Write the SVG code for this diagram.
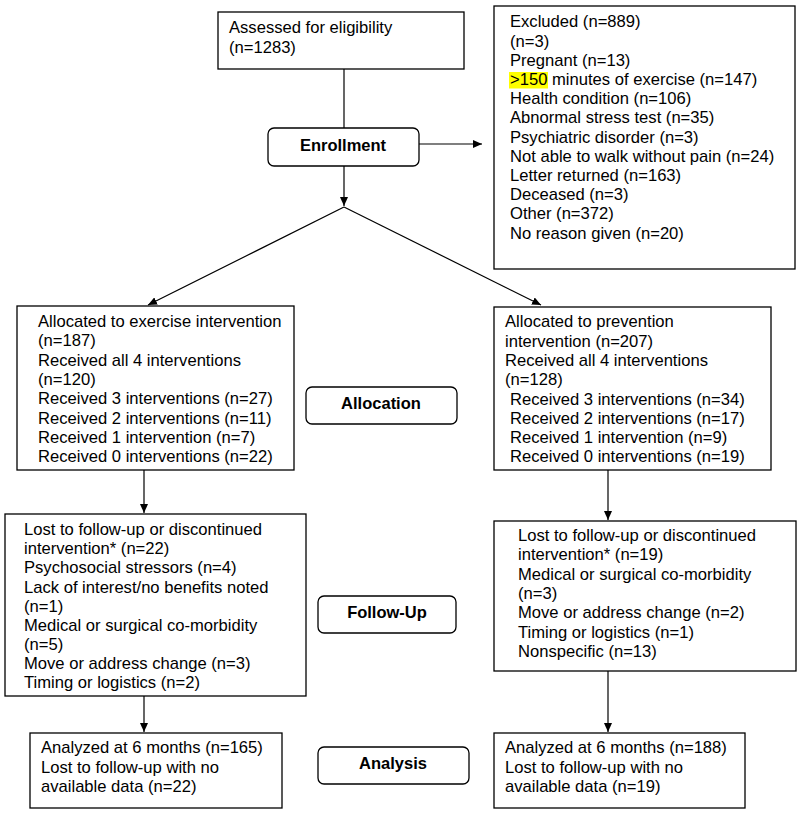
<svg xmlns="http://www.w3.org/2000/svg" width="800" height="815" viewBox="0 0 800 815">
<style>
.box{fill:#fff;stroke:#000;stroke-width:1.3}
.stage{fill:#fff;stroke:#000;stroke-width:1.3}
.t{font-family:"Liberation Sans",Arial,sans-serif;font-size:16.6px;fill:#000}
.b{font-family:"Liberation Sans",Arial,sans-serif;font-size:16.5px;font-weight:bold;fill:#000;text-anchor:middle}
.c{stroke:#000;stroke-width:1.2;fill:none}
</style>
<defs>
<marker id="ah" markerUnits="userSpaceOnUse" markerWidth="9" markerHeight="8" refX="9" refY="4" orient="auto">
<path d="M0,0 L9,4 L0,8 z" fill="#000"/>
</marker>
<clipPath id="clipLF"><rect x="5" y="514" width="301" height="182"/></clipPath>
</defs>
<rect width="800" height="815" fill="#fff"/>

<g id="connectors">
<line class="c" x1="344" y1="69" x2="344" y2="128"/>
<line class="c" x1="419" y1="144" x2="482" y2="144" marker-end="url(#ah)"/>
<line class="c" x1="344" y1="166" x2="344" y2="206" marker-end="url(#ah)"/>
<line class="c" x1="344" y1="207" x2="148" y2="305" marker-end="url(#ah)"/>
<line class="c" x1="344" y1="207" x2="541" y2="305" marker-end="url(#ah)"/>
<line class="c" x1="144" y1="470" x2="144" y2="513" marker-end="url(#ah)"/>
<line class="c" x1="608" y1="470" x2="608" y2="520" marker-end="url(#ah)"/>
<line class="c" x1="144" y1="696" x2="144" y2="732" marker-end="url(#ah)"/>
<line class="c" x1="608" y1="671" x2="608" y2="732" marker-end="url(#ah)"/>
</g>

<g id="assessed">
<rect class="box" x="218" y="12" width="246" height="57"/>
<text class="t" x="229" y="33">Assessed for eligibility</text>
<text class="t" x="229" y="53">(n=1283)</text>
</g>

<g id="enrollment">
<rect class="stage" x="268" y="128" width="151" height="38" rx="6"/>
<text class="b" x="343" y="151">Enrollment</text>
</g>

<g id="excluded">
<rect class="box" x="494" y="6" width="301" height="263"/>
<rect x="509" y="72" width="39" height="16.5" fill="#ffff00"/>
<text class="t" x="510" y="27.3">Excluded (n=889)</text>
<text class="t" x="510" y="46.5">(n=3)</text>
<text class="t" x="510" y="65.7">Pregnant (n=13)</text>
<text class="t" x="510" y="84.9">&gt;150 minutes of exercise (n=147)</text>
<text class="t" x="510" y="104.1">Health condition (n=106)</text>
<text class="t" x="510" y="123.3">Abnormal stress test (n=35)</text>
<text class="t" x="510" y="142.5">Psychiatric disorder (n=3)</text>
<text class="t" x="510" y="161.7">Not able to walk without pain (n=24)</text>
<text class="t" x="510" y="180.9">Letter returned (n=163)</text>
<text class="t" x="510" y="200.1">Deceased (n=3)</text>
<text class="t" x="510" y="219.3">Other (n=372)</text>
<text class="t" x="510" y="238.5">No reason given (n=20)</text>
</g>

<g id="alloc-exercise">
<rect class="box" x="17" y="306" width="277" height="164"/>
<text class="t" x="38" y="327">Allocated to exercise intervention</text>
<text class="t" x="38" y="346.3">(n=187)</text>
<text class="t" x="38" y="365.6">Received all 4 interventions</text>
<text class="t" x="38" y="384.9">(n=120)</text>
<text class="t" x="38" y="404.2">Received 3 interventions (n=27)</text>
<text class="t" x="38" y="423.5">Received 2 interventions (n=11)</text>
<text class="t" x="38" y="442.8">Received 1 intervention (n=7)</text>
<text class="t" x="38" y="462.1">Received 0 interventions (n=22)</text>
</g>

<g id="allocation">
<rect class="stage" x="306" y="387" width="151" height="37" rx="6"/>
<text class="b" x="381" y="409">Allocation</text>
</g>

<g id="alloc-prevention">
<rect class="box" x="494" y="307" width="277" height="163"/>
<text class="t" x="505" y="327.3">Allocated to prevention</text>
<text class="t" x="505" y="346.6">intervention (n=207)</text>
<text class="t" x="505" y="365.9">Received all 4 interventions</text>
<text class="t" x="505" y="385.2">(n=128)</text>
<text class="t" x="510" y="404.5">Received 3 interventions (n=34)</text>
<text class="t" x="510" y="423.8">Received 2 interventions (n=17)</text>
<text class="t" x="510" y="443.1">Received 1 intervention (n=9)</text>
<text class="t" x="510" y="462.4">Received 0 interventions (n=19)</text>
</g>

<g id="followup-exercise">
<rect class="box" x="5" y="514" width="301" height="182"/>
<g clip-path="url(#clipLF)">
<text class="t" x="24" y="535">Lost to follow-up or discontinued</text>
<text class="t" x="24" y="554.2">intervention* (n=22)</text>
<text class="t" x="24" y="573.3">Psychosocial stressors (n=4)</text>
<text class="t" x="24" y="592.5">Lack of interest/no benefits noted</text>
<text class="t" x="24" y="611.6">(n=1)</text>
<text class="t" x="24" y="630.8">Medical or surgical co-morbidity</text>
<text class="t" x="24" y="650">(n=5)</text>
<text class="t" x="24" y="669.1">Move or address change (n=3)</text>
<text class="t" x="24" y="688.3">Timing or logistics (n=2)</text>
</g>
</g>

<g id="followup">
<rect class="stage" x="318" y="596" width="138" height="37" rx="6"/>
<text class="b" x="387" y="618">Follow-Up</text>
</g>

<g id="followup-prevention">
<rect class="box" x="494" y="521" width="302" height="150"/>
<text class="t" x="518" y="541">Lost to follow-up or discontinued</text>
<text class="t" x="518" y="560.3">intervention* (n=19)</text>
<text class="t" x="518" y="579.6">Medical or surgical co-morbidity</text>
<text class="t" x="518" y="598.9">(n=3)</text>
<text class="t" x="518" y="618.2">Move or address change (n=2)</text>
<text class="t" x="518" y="637.5">Timing or logistics (n=1)</text>
<text class="t" x="518" y="656.8">Nonspecific (n=13)</text>
</g>

<g id="analysis-exercise">
<rect class="box" x="30" y="733" width="252" height="75"/>
<text class="t" x="41" y="753">Analyzed at 6 months (n=165)</text>
<text class="t" x="41" y="772.5">Lost to follow-up with no</text>
<text class="t" x="41" y="792">available data (n=22)</text>
</g>

<g id="analysis">
<rect class="stage" x="318" y="747" width="151" height="37" rx="6"/>
<text class="b" x="393" y="769">Analysis</text>
</g>

<g id="analysis-prevention">
<rect class="box" x="494" y="733" width="251" height="75"/>
<text class="t" x="505" y="753">Analyzed at 6 months (n=188)</text>
<text class="t" x="505" y="772.5">Lost to follow-up with no</text>
<text class="t" x="505" y="792">available data (n=19)</text>
</g>
</svg>
